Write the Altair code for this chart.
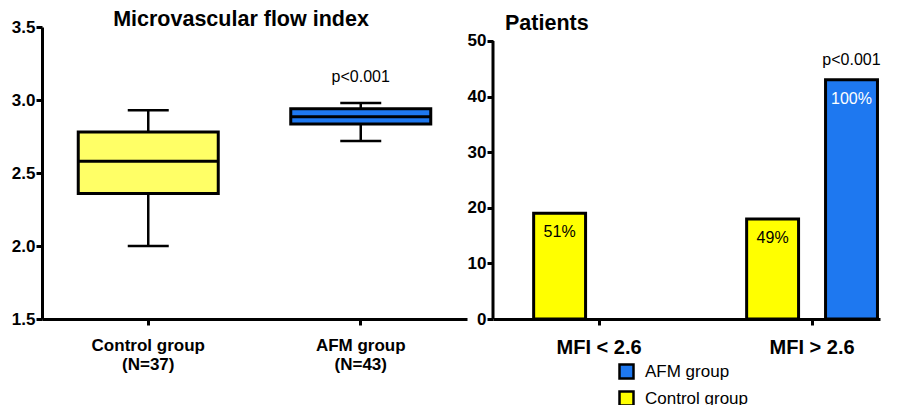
import altair as alt
import pandas as pd

# ---- data: left panel (box plot summary of MFI) ----
box_groups = ["Control group\n(N=37)", "AFM group\n(N=43)"]
box_min = [2.00, 2.72]
box_q1 = [2.36, 2.835]
box_median = [2.58, 2.885]
box_q3 = [2.78, 2.94]
box_max = [2.93, 2.98]
box_fill = ["#FFFF66", "#1E78F0"]

# ---- data: right panel (patients count) ----
bar_category = ["MFI < 2.6", "MFI > 2.6", "MFI > 2.6"]
bar_group = ["Control group", "Control group", "AFM group"]
bar_value = [19, 18, 43]
bar_label = ["51%", "49%", "100%"]

groups_offset_order = ["Control group", "AFM group"]
legend_order = ["AFM group", "Control group"]
legend_colors = ["#1E78F0", "#FFFF00"]
mfi_categories = ["MFI < 2.6", "MFI > 2.6"]

p_text = "p<0.001"

FONT = "Liberation Sans"

box_df = pd.DataFrame({
    "group": box_groups, "min": box_min, "q1": box_q1, "median": box_median,
    "q3": box_q3, "max": box_max, "fill": box_fill,
})
bar_df = pd.DataFrame({
    "category": bar_category, "group": bar_group, "value": bar_value, "label": bar_label,
})

# ---------------- Left chart ----------------
LW, H = 425, 292
xL = alt.X("group:N", sort=box_groups, scale=alt.Scale(paddingInner=0, paddingOuter=0),
           axis=alt.Axis(title=None, labelAngle=0, labelExpr="split(datum.label, '\\n')",
                         labelFontSize=17, labelLineHeight=19, labelPadding=12))
yL = alt.Scale(domain=[1.5, 3.5], nice=False, zero=False)
yAxisL = alt.Axis(title=None, values=[1.5, 2.0, 2.5, 3.0, 3.5], format=".1f")

base_l = alt.Chart(box_df)
whisk_hi = base_l.mark_rule(color="black", strokeWidth=2.5).encode(
    x=xL, y=alt.Y("q3:Q", scale=yL, axis=yAxisL), y2="max:Q")
whisk_lo = base_l.mark_rule(color="black", strokeWidth=2.5).encode(
    x=xL, y=alt.Y("min:Q", scale=yL), y2="q1:Q")
cap_hi = base_l.mark_tick(color="black", thickness=2.5, size=41, opacity=1).encode(
    x=xL, y=alt.Y("max:Q", scale=yL))
cap_lo = base_l.mark_tick(color="black", thickness=2.5, size=41, opacity=1).encode(
    x=xL, y=alt.Y("min:Q", scale=yL))
box = base_l.mark_bar(size=140, stroke="black", strokeWidth=3).encode(
    x=xL, y=alt.Y("q1:Q", scale=yL), y2="q3:Q",
    fill=alt.Fill("fill:N", scale=None))
med = base_l.mark_tick(color="black", thickness=3, size=140, opacity=1).encode(
    x=xL, y=alt.Y("median:Q", scale=yL))

pL_df = pd.DataFrame({"group": [box_groups[1]], "y": [3.16], "t": [p_text]})
pL = alt.Chart(pL_df).mark_text(font=FONT, fontSize=16, color="black").encode(
    x=xL, y=alt.Y("y:Q", scale=yL), text="t:N")

titleL_df = pd.DataFrame({"t": ["Microvascular flow index"]})
titleL = alt.Chart(titleL_df).mark_text(font=FONT, fontSize=21.5, fontWeight="bold",
                                        color="black", align="center", baseline="middle").encode(
    x=alt.value(199), y=alt.value(-7), text="t:N")

left = alt.layer(whisk_hi, whisk_lo, cap_hi, cap_lo, box, med, pL, titleL).properties(
    width=LW, height=H)

# ---------------- Right chart ----------------
RW = 387
xR = alt.X("category:N", sort=mfi_categories,
           scale=alt.Scale(domain=mfi_categories, paddingInner=0.362, paddingOuter=0.0895, align=1),
           axis=alt.Axis(title=None, labelAngle=0, labelFontSize=20, labelPadding=12))
xoR = alt.XOffset("group:N", scale=alt.Scale(domain=groups_offset_order, paddingInner=0.342,
                                             paddingOuter=0.032))
yR = alt.Scale(domain=[0, 52.5], nice=False)
yAxisR = alt.Axis(title=None, values=[0, 10, 20, 30, 40, 50], domain=False)

base_r = alt.Chart(bar_df)
bars = base_r.mark_bar(stroke="black", strokeWidth=3).encode(
    x=xR, xOffset=xoR,
    y=alt.Y("value:Q", scale=yR, axis=yAxisR),
    color=alt.Color("group:N", scale=alt.Scale(domain=legend_order, range=legend_colors),
                    legend=alt.Legend(title=None, orient="none", legendX=576, legendY=336,
                                      symbolType="square", symbolSize=196,
                                      symbolStrokeColor="black", symbolStrokeWidth=2.5,
                                      labelFontSize=17, labelFont=FONT, labelFontWeight="normal",
                                      labelColor="black",
                                      rowPadding=2, labelOffset=10)))
pct = base_r.mark_text(font=FONT, fontSize=16, baseline="middle", dy=19).encode(
    x=xR, xOffset=xoR, y=alt.Y("value:Q", scale=yR), text="label:N",
    color=alt.condition(alt.datum.group == "AFM group", alt.value("white"), alt.value("black")))

pR_df = pd.DataFrame({"category": ["MFI > 2.6"], "group": ["AFM group"], "y": [46.6], "t": [p_text]})
pR = alt.Chart(pR_df).mark_text(font=FONT, fontSize=16, color="black").encode(
    x=xR, xOffset=xoR, y=alt.Y("y:Q", scale=yR), text="t:N")

axis_df = pd.DataFrame({"lo": [0], "hi": [50]})
yline = alt.Chart(axis_df).mark_rule(color="black", strokeWidth=3).encode(
    x=alt.value(0), y=alt.Y("lo:Q", scale=yR), y2="hi:Q")

titleR_df = pd.DataFrame({"t": ["Patients"]})
titleR = alt.Chart(titleR_df).mark_text(font=FONT, fontSize=21.5, fontWeight="bold",
                                        color="black", align="left", baseline="middle").encode(
    x=alt.value(12), y=alt.value(-3), text="t:N")

right = alt.layer(bars, pct, pR, yline, titleR).properties(width=RW, height=H)

chart = alt.hconcat(left, right, spacing=26, bounds="flush").properties(
    padding={"left": 3, "top": 1, "right": 5, "bottom": 0}
).configure_view(stroke=None).configure_axis(
    labelFont=FONT, labelFontWeight="bold", labelFontSize=17, labelColor="black",
    domainColor="black", domainWidth=3, tickColor="black", tickWidth=3, tickSize=6,
    grid=False
).configure_axisY(labelPadding=1)

chart.save("out.html", embed_options={"renderer": "svg", "actions": False})
